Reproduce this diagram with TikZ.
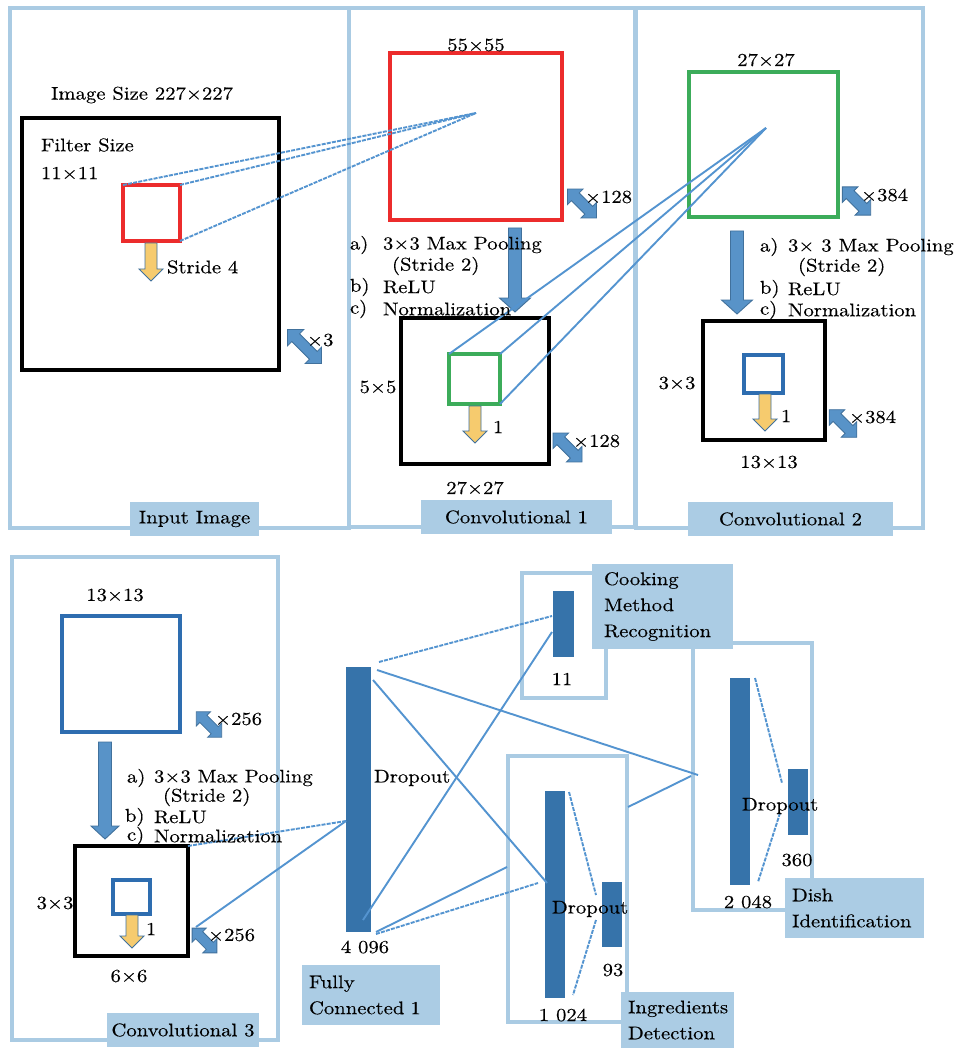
\documentclass[tikz,border=0pt]{standalone}
\usepackage{fontspec}
\setmainfont{lmroman10-regular.otf}[FakeStretch=1.13, FakeBold=0.3]
\usetikzlibrary{fit}

\definecolor{panelblue}{RGB}{170,203,227}
\definecolor{tagblue}{RGB}{171,204,228}
\definecolor{barblue}{RGB}{54,115,170}
\definecolor{linkblue}{RGB}{84,148,208}
\definecolor{arrowblue}{RGB}{88,147,200}
\definecolor{arrowedge}{RGB}{65,113,156}
\definecolor{stridey}{RGB}{246,203,110}
\definecolor{mapred}{RGB}{236,44,44}
\definecolor{mapgreen}{RGB}{60,172,90}
\definecolor{mapblue}{RGB}{46,109,176}

\tikzset{
  panel/.style={draw=panelblue, line width=3.5pt},
  tag/.style={fill=tagblue, anchor=north west},
  txt/.style={inner sep=0pt},
  bar/.style={fill=barblue},
  link/.style={draw=linkblue, line width=1.9pt},
  dlink/.style={link, dash pattern=on 4pt off 1.2pt},
  bigarrow/.style={fill=arrowblue, draw=arrowedge, line width=0.9pt},
  yarrow/.style={fill=stridey, draw=arrowedge, line width=0.9pt},
  pics/downarrow/.style n args={5}{code={
    \path[#5] (-#2,0) -- (#2,0) -- (#2,#1-#4) -- (#3,#1-#4) -- (0,#1)
      -- (-#3,#1-#4) -- (-#2,#1-#4) -- cycle;}},
  pics/twoway/.style n args={4}{code={
    \path[fill=arrowblue, draw=arrowedge, line width=0.8pt]
      (-#1,0) -- (-#1+#4,-#3) -- (-#1+#4,-#2) -- (#1-#4,-#2) -- (#1-#4,-#3)
      -- (#1,0) -- (#1-#4,#3) -- (#1-#4,#2) -- (-#1+#4,#2) -- (-#1+#4,#3) -- cycle;}},
}

\begin{document}
\begin{tikzpicture}[x=1pt, y=-1pt, every node/.style={inner sep=0pt, outer sep=0pt},
  font=\fontsize{18.3}{26}\selectfont]
\useasboundingbox[fill=white] (0,0) rectangle (958,1048);

% ---------- panel frames ----------
\node[panel, fit={(10,8) (349,528)}] (pin) {};
\node[panel, fit={(349,8) (635,527)}] (pc1) {};
\node[panel, fit={(636,8) (923,528)}] (pc2) {};
\node[panel, fit={(12,557) (278,1040)}] (pc3) {};
\node[panel, fit={(522,573) (606,698)}] (pcook) {};
\node[panel, fit={(508,756) (627,1022)}] (ping) {};
\node[panel, fit={(693,643) (812,910)}] (pdish) {};

% ---------- input image ----------
\node[draw=black, line width=4pt, fit={(22,118) (279,370)}] (img) {};
\node[draw=mapred, line width=3.5pt, fit={(123,185) (180,241)}] (filt) {};
\pic at (151,243) {downarrow={38}{6}{12}{12}{yarrow}};
\pic[rotate=-45] at (304.5,346.5) {twoway={24}{5.5}{11.5}{11.5}};

% ---------- convolutional 1 ----------
\node[draw=mapred, line width=3.5pt, fit={(390,53) (562,220)}] (c1map) {};
\coordinate (c1focus) at (476,113);
\pic[rotate=-45] at (582,203.5) {twoway={20.5}{5.5}{11}{11}};
\pic at (515,228) {downarrow={84}{6.5}{15.5}{14}{bigarrow}};
\node[draw=black, line width=4pt, fit={(401,318) (549,464)}] (c1pool) {};
\node[draw=mapgreen, line width=3.5pt, fit={(449,354) (500,404)}] (c1filt) {};
\pic at (475,406) {downarrow={37}{6}{12}{12}{yarrow}};
\pic[rotate=-45] at (567.5,447.5) {twoway={20.5}{5.5}{11}{11}};

% ---------- convolutional 2 ----------
\node[draw=mapgreen, line width=3.5pt, fit={(689,72) (838,217)}] (c2map) {};
\coordinate (c2focus) at (766,128);
\pic[rotate=-45] at (856.5,201) {twoway={20}{5.5}{11}{11}};
\pic at (737,231) {downarrow={83}{6.5}{15.5}{14}{bigarrow}};
\node[draw=black, line width=4pt, fit={(703,321) (825,440)}] (c2pool) {};
\node[draw=mapblue, line width=3.2pt, fit={(744,355) (783,393)}] (c2filt) {};
\pic at (765,394) {downarrow={37}{6}{12}{12}{yarrow}};
\pic[rotate=-45] at (843,423.5) {twoway={19.5}{5.5}{11}{11}};

% ---------- convolutional 3 ----------
\node[draw=mapblue, line width=3.2pt, fit={(62,616) (180,732)}] (c3map) {};
\pic[rotate=-45] at (209,724.5) {twoway={18}{5}{10}{10}};
\pic at (105,742) {downarrow={97}{6.5}{14}{13}{bigarrow}};
\node[draw=black, line width=4pt, fit={(75,846) (188,956)}] (c3pool) {};
\node[draw=mapblue, line width=3.2pt, fit={(113,880) (150,914)}] (c3filt) {};
\pic at (132,915) {downarrow={33}{6}{12}{12}{yarrow}};
\pic[rotate=-45] at (204.5,940.5) {twoway={17.5}{5}{10}{10}};
\coordinate (c3out) at (196,927);

% ---------- fully connected layers ----------
\node[bar, fit={(346,667) (371,932)}] (fc1) {};
\node[bar, fit={(553,591) (574,657)}] (cook) {};
\node[bar, fit={(545,791) (565,998)}] (ingA) {};
\node[bar, fit={(602,882) (622,947)}] (ingB) {};
\node[bar, fit={(730,678) (750,885)}] (dishA) {};
\node[bar, fit={(788,769) (808,835)}] (dishB) {};

% ---------- receptive field connectors ----------
\draw[dlink] (filt.north west) -- (c1focus);
\draw[dlink] (filt.north east) -- (c1focus);
\draw[dlink] (filt.south east) -- (c1focus);
\draw[link] (c1filt.north west) -- (c2focus);
\draw[link] (c1filt.north east) -- (c2focus);
\draw[link] (c1filt.south east) -- (c2focus);

% ---------- fully connected connectors ----------
\coordinate (fcin) at (346,821);
\draw[dlink] (c3pool.north east) -- (fcin);
\draw[link] (c3out) -- (fcin);

\coordinate (fcTa) at (379,662);
\coordinate (fcTb) at (373,680);
\coordinate (fcTc) at (377,670);
\coordinate (fcBa) at (363,920);
\coordinate (fcBb) at (376,932);
\coordinate (fcBc) at (376,934);
\coordinate (cookA) at (552,616);
\coordinate (cookB) at (552,632);
\coordinate (ingIn) at (547,883);
\coordinate (ingInB) at (538,883);
\coordinate (ingL) at (507,867);
\coordinate (ingR) at (628,807);
\coordinate (dishL) at (691,776);
\coordinate (dishLa) at (698,775);
\draw[dlink] (fcTa) -- (cookA);
\draw[link] (fcBa) -- (cookB);
\draw[link] (fcTb) -- (ingIn);
\draw[link] (fcTc) -- (dishLa);
\draw[link] (fcBb) -- (ingL);
\draw[dlink] (fcBc) -- (ingInB);
\draw[link] (ingR) -- (dishL);

\coordinate (ingA1) at (569,792);
\coordinate (ingB1) at (596,895);
\coordinate (ingB2) at (596,920);
\coordinate (ingA2) at (573,995);
\draw[dlink] (ingA1) -- (ingB1);
\draw[dlink] (ingB2) -- (ingA2);
\coordinate (dishA1) at (755,678);
\coordinate (dishB1) at (782,783);
\coordinate (dishB2) at (780,813);
\coordinate (dishA2) at (758,882);
\draw[dlink] (dishA1) -- (dishB1);
\draw[dlink] (dishB2) -- (dishA2);

% ---------- texts: input image ----------
\node[txt] (tImg) at (142,95) {Image Size 227×227};
\node[txt, anchor=west] (tFilt) at (41,145) {Filter Size};
\node[txt, anchor=west] (tFiltN) at (41,173) {11×11};
\node[txt, anchor=west] (tStride) at (167,267) {Stride 4};
\node[txt, anchor=west] (tX3) at (307,340) {×3};

% ---------- texts: convolutional 1 ----------
\node[txt] (t55) at (476,45) {55×55};
\node[txt, anchor=west] (t128a) at (585,197) {×128};
\node[txt, anchor=west] (l1a) at (350,245) {a)};
\node[txt, anchor=west] (l1aT) at (383,245) {3×3 Max Pooling};
\node[txt, anchor=west] (l1aS) at (392,266) {(Stride 2)};
\node[txt, anchor=west] (l1b) at (350,287) {b)};
\node[txt, anchor=west] (l1bT) at (383,287) {ReLU};
\node[txt, anchor=west] (l1c) at (350,309) {c)};
\node[txt, anchor=west] (l1cT) at (383,309) {Normalization};
\node[txt] (t5) at (378,387) {5×5};
\node[txt, anchor=west] (t1a) at (493,427) {1};
\node[txt, anchor=west] (t128b) at (573,441) {×128};
\node[txt] (t27a) at (475,488) {27×27};

% ---------- texts: convolutional 2 ----------
\node[txt] (t27b) at (766,60) {27×27};
\node[txt, anchor=west] (t384a) at (861,195) {×384};
\node[txt, anchor=west] (l2a) at (760,247) {a)};
\node[txt, anchor=west] (l2aT) at (788,247) {3× 3 Max Pooling};
\node[txt, anchor=west] (l2aS) at (798,267) {(Stride 2)};
\node[txt, anchor=west] (l2b) at (760,289) {b)};
\node[txt, anchor=west] (l2bT) at (788,289) {ReLU};
\node[txt, anchor=west] (l2c) at (760,310) {c)};
\node[txt, anchor=west] (l2cT) at (788,310) {Normalization};
\node[txt] (t3a) at (677,383) {3×3};
\node[txt, anchor=west] (t1b) at (781,416) {1};
\node[txt, anchor=west] (t384b) at (849,417) {×384};
\node[txt] (t13a) at (769,462) {13×13};

% ---------- texts: convolutional 3 ----------
\node[txt] (t13b) at (115,595) {13×13};
\node[txt, anchor=west] (t256a) at (215,719) {×256};
\node[txt, anchor=west] (l3a) at (127,778) {a)};
\node[txt, anchor=west] (l3aT) at (154,778) {3×3 Max Pooling};
\node[txt, anchor=west] (l3aS) at (163,797) {(Stride 2)};
\node[txt, anchor=west] (l3b) at (125,817) {b)};
\node[txt, anchor=west] (l3bT) at (154,817) {ReLU};
\node[txt, anchor=west] (l3c) at (127,836) {c)};
\node[txt, anchor=west] (l3cT) at (154,836) {Normalization};
\node[txt] (t3b) at (55,903) {3×3};
\node[txt, anchor=west] (t1c) at (146,929) {1};
\node[txt, anchor=west] (t256b) at (208,935) {×256};
\node[txt] (t6) at (129,976) {6×6};

% ---------- texts: fully connected ----------
\node[txt, anchor=west] (dFC) at (374,778) {Dropout};
\node[txt] (n4096) at (365,947) {4 096};
\node[txt] (n11) at (562,679) {11};
\node[txt, anchor=west] (dIng) at (552,909) {Dropout};
\node[txt] (n93) at (613,970) {93};
\node[txt] (n1024) at (563,1015) {1 024};
\node[txt, anchor=west] (dDish) at (742,806) {Dropout};
\node[txt] (n360) at (797,860) {360};
\node[txt] (n2048) at (748,902) {2 048};

% ---------- panel tags ----------
\node[tag, minimum width=129pt, minimum height=34pt] (gIn) at (130,502) {Input Image};
\node[tag, minimum width=191pt, minimum height=34pt] (gC1) at (421,500) {Convolutional 1};
\node[tag, minimum width=205pt, minimum height=34pt] (gC2) at (688,502) {Convolutional 2};
\node[tag, minimum width=152pt, minimum height=34pt] (gC3) at (107,1013) {Convolutional 3};
\node[tag, minimum width=138pt, minimum height=60pt, inner xsep=7pt,
  text width=124pt, align=left] (gFC) at (302,965) {Fully\\Connected 1};
\node[tag, minimum width=141pt, minimum height=85pt, inner xsep=12pt,
  text width=117pt, align=left] (gCook) at (592,564) {Cooking\\Method\\Recognition};
\node[tag, minimum width=113pt, minimum height=56pt, inner xsep=7pt,
  text width=99pt, align=left] (gIng) at (621,992) {Ingredients\\Detection};
\node[tag, minimum width=139pt, minimum height=60pt, inner xsep=7pt,
  text width=125pt, align=left] (gDish) at (785,878) {Dish\\Identification};
\end{tikzpicture}
\end{document}
